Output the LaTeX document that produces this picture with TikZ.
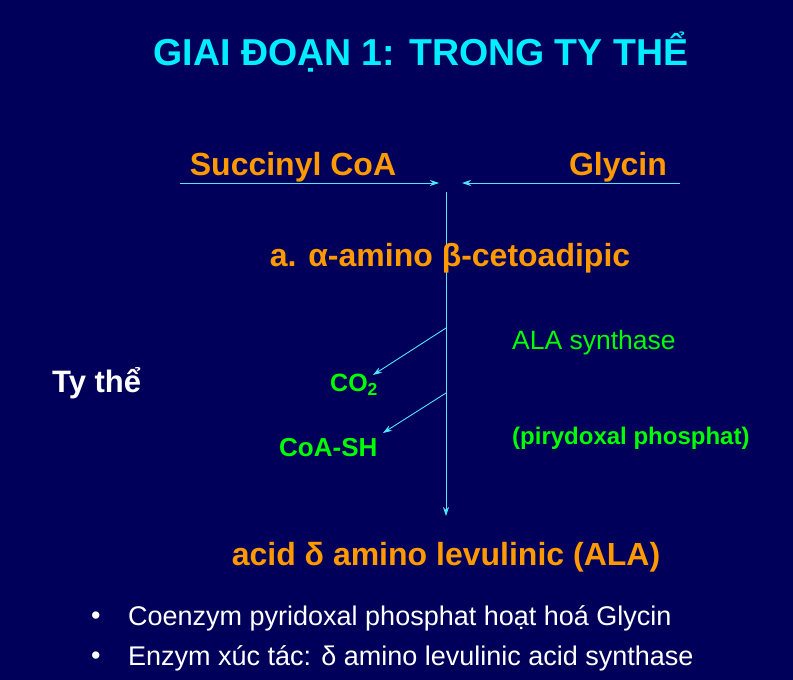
\documentclass[tikz,border=0pt]{standalone}
\usepackage{fontspec}
\setmainfont{Liberation Sans}
\usetikzlibrary{arrows.meta}
\definecolor{bg}{RGB}{0,0,90}
\definecolor{ttl}{RGB}{0,238,255}
\definecolor{org}{RGB}{255,153,0}
\definecolor{grn}{RGB}{0,255,0}
\definecolor{ln}{RGB}{80,230,255}
\tikzset{x=1pt,y=-1pt,
 orgtxt/.style={text=org,font=\fontsize{32}{36}\selectfont\bfseries,inner sep=0},
 grntxt/.style={text=grn,inner sep=0},
 arr/.style={draw=ln,line width=0.9pt,-{Stealth[length=9pt,width=6pt]}},
 bul/.style={text=white,font=\fontsize{27}{30}\selectfont,anchor=west,inner sep=0}}
\begin{document}
\begin{tikzpicture}
\fill[bg] (0,0) rectangle (793,680);
\useasboundingbox (0,0) rectangle (793,680);
\node[text=ttl,font=\fontsize{37.5}{42}\selectfont\bfseries,inner sep=0] (title) at (421,52) {GIAI ĐOẠN 1: TRONG TY THỂ};
\node[orgtxt] (suc) at (293,167) {Succinyl CoA};
\node[orgtxt] (gly) at (618,167) {Glycin};
\coordinate (l1) at (180,183); \coordinate (l2) at (439,183);
\coordinate (r1) at (680,183); \coordinate (r2) at (462,183);
\draw[arr] (l1) -- (l2);
\draw[arr] (r1) -- (r2);
\coordinate (vtop) at (446,192); \coordinate (vbot) at (446,516);
\draw[arr] (vtop) -- (vbot);
\node[orgtxt] (amino) at (450,258) {a. α-amino β-cetoadipic};
\node[grntxt,font=\fontsize{26.5}{30}\selectfont,anchor=west] (ala) at (512,343) {ALA synthase};
\node[grntxt,font=\fontsize{24}{28}\selectfont\bfseries,anchor=west] (pir) at (512,438) {(pirydoxal phosphat)};
\node[text=white,font=\fontsize{31}{34}\selectfont\bfseries,anchor=west,inner sep=0] (ty) at (52,383) {Ty thể};
\node[grntxt,font=\fontsize{25}{28}\selectfont\bfseries,anchor=west] (co2) at (330,385) {CO\textsubscript{2}};
\node[grntxt,font=\fontsize{26}{28}\selectfont\bfseries,anchor=west] (coa) at (279,448) {CoA-SH};
\coordinate (d1) at (446,328); \coordinate (d2) at (446,393);
\draw[arr] (d1) -- (373,375);
\draw[arr] (d2) -- (383,433);
\node[orgtxt] (alaf) at (446,557) {acid δ amino levulinic (ALA)};
\node[bul] (b1) at (91,618) {•};
\node[bul] (t1) at (128,618) {Coenzym pyridoxal phosphat hoạt hoá Glycin};
\node[bul] (b2) at (91,658) {•};
\node[bul] (t2) at (128,658) {Enzym xúc tác: δ amino levulinic acid synthase};
\end{tikzpicture}
\end{document}
